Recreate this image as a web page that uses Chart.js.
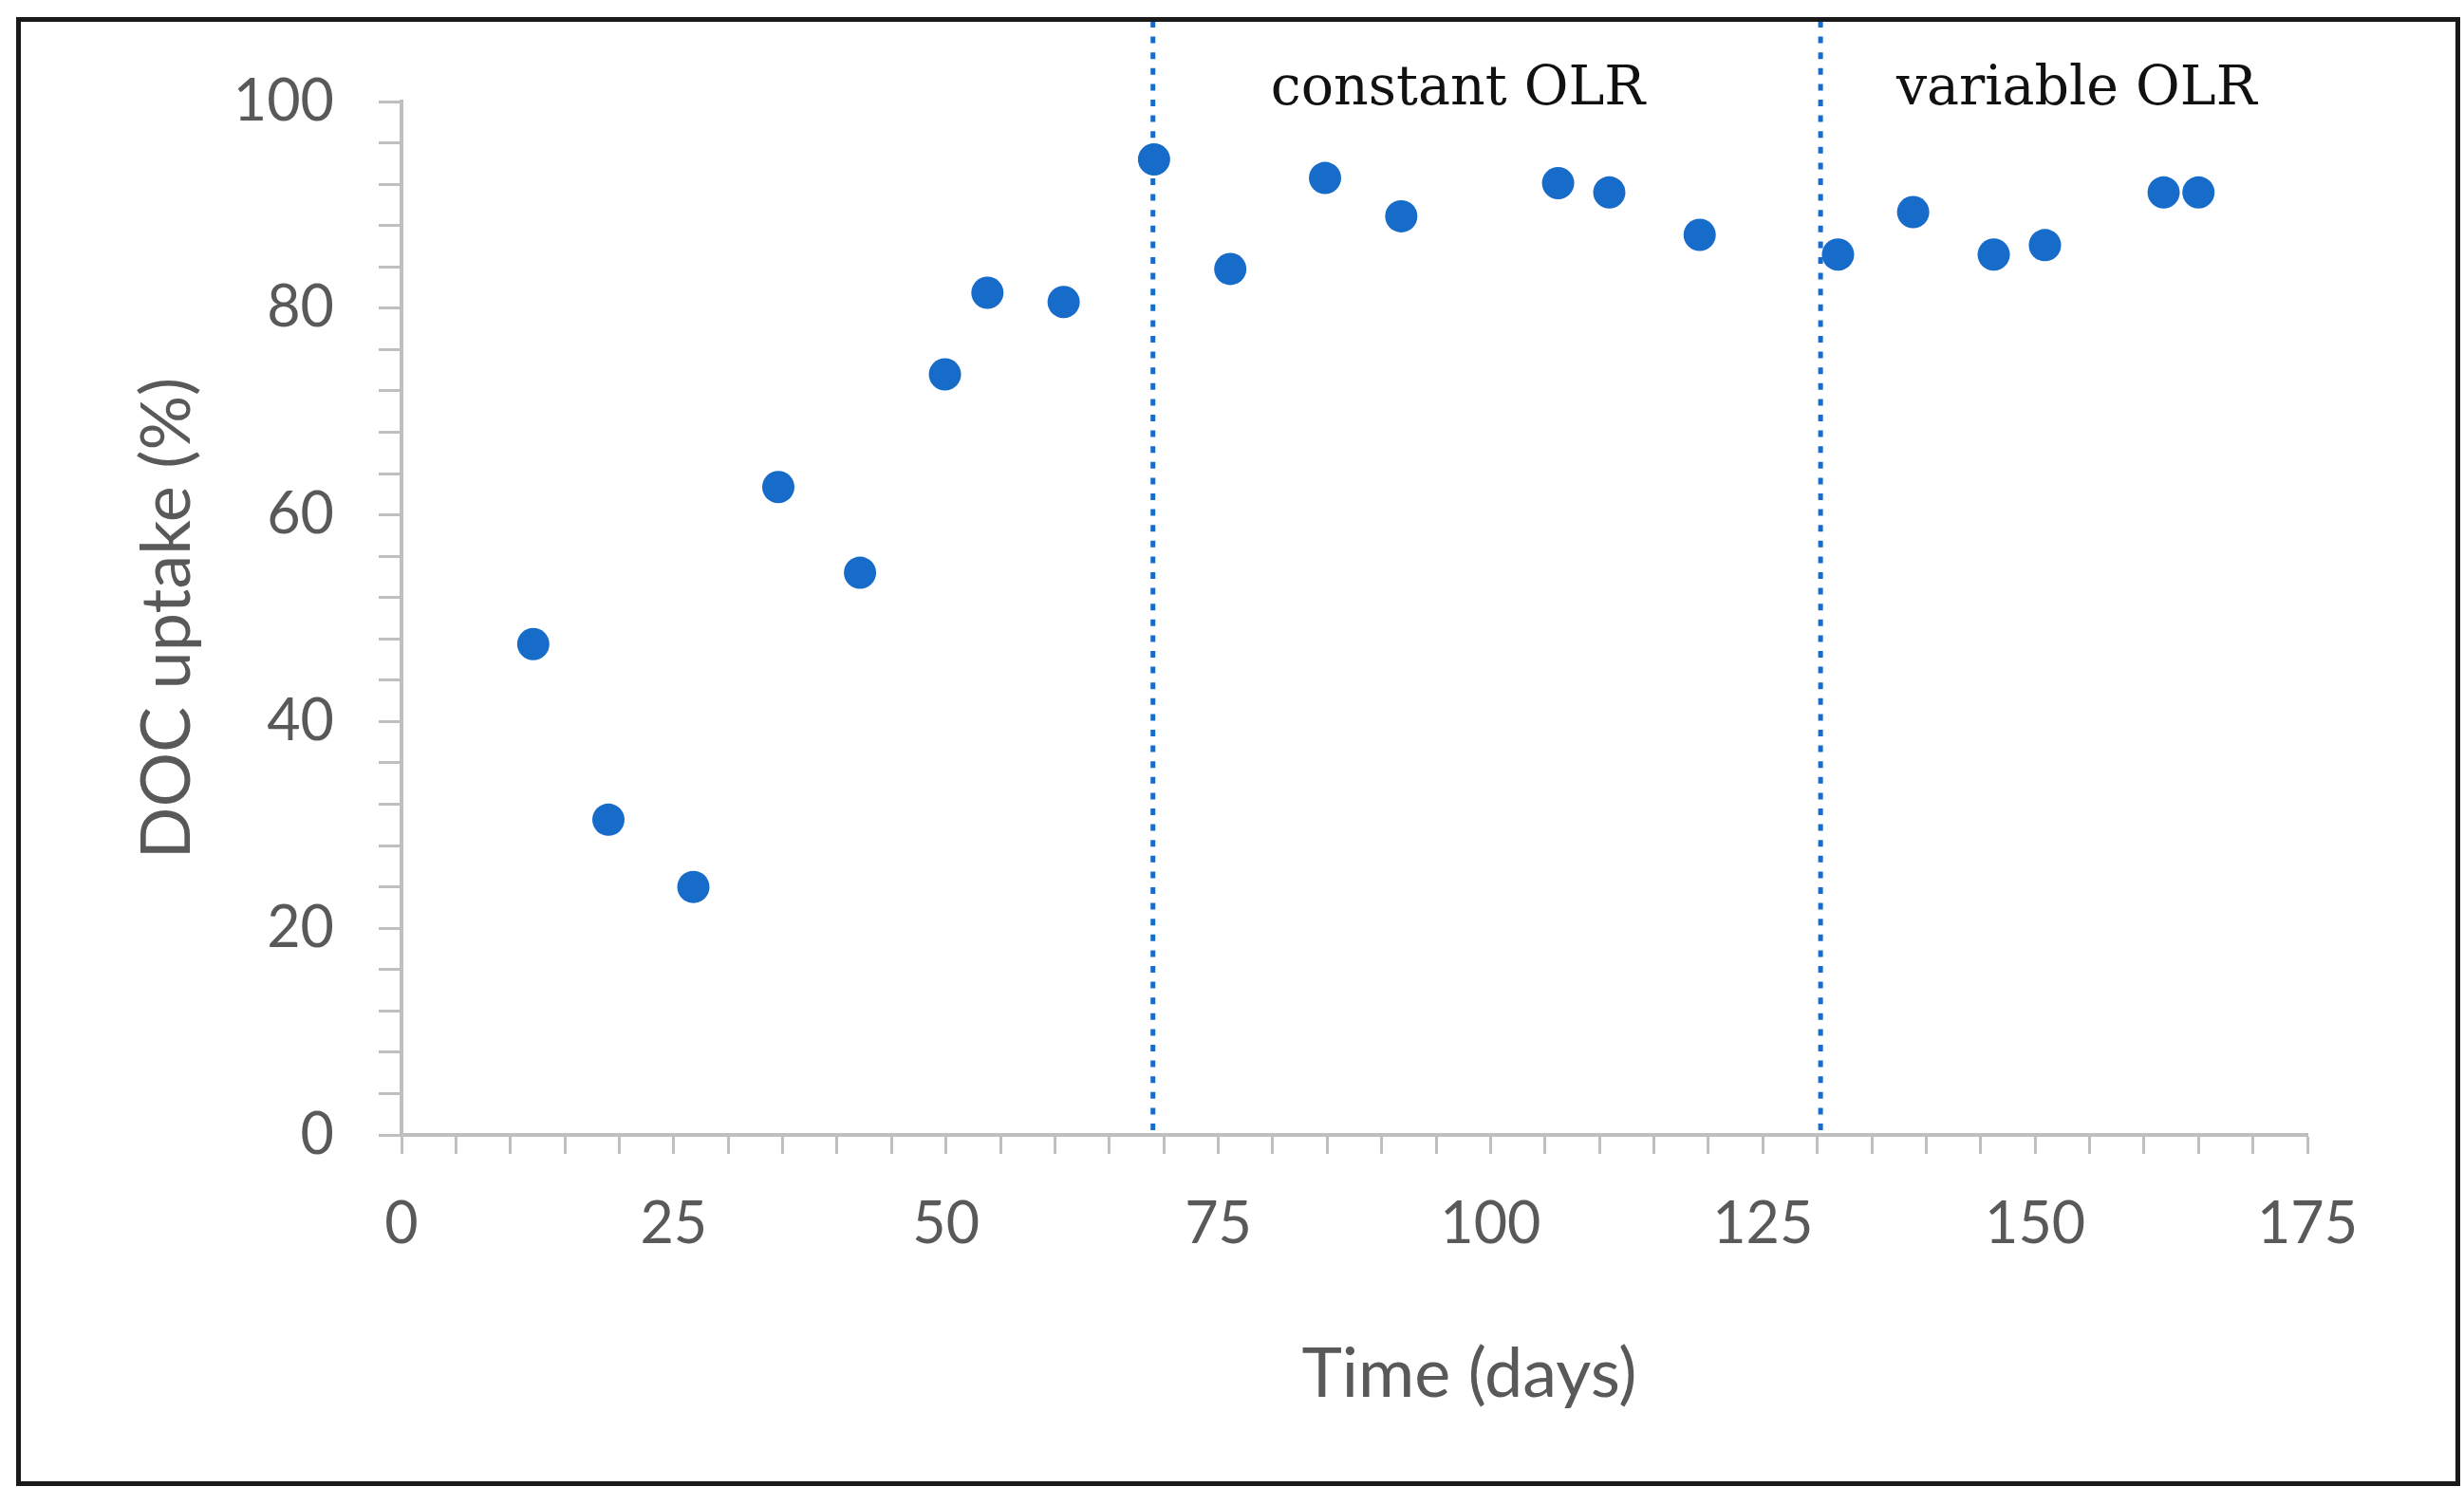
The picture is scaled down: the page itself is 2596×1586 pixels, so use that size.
<!DOCTYPE html>
<html>
<head>
<meta charset="utf-8">
<title>DOC uptake</title>
<script src="https://cdn.jsdelivr.net/npm/chart.js@4.4.1/dist/chart.umd.min.js"></script>
<style>
    html, body { margin: 0; padding: 0; background: #fff; }
    #chart { display: block; }
</style>
</head>
<body>
<canvas id="chart" width="2596" height="1586" style="width:2596px;height:1586px"></canvas>
<script>
// sampling days and DOC uptake (%)
const days = [12.1, 19.0, 26.8, 34.6, 42.1, 49.9, 53.8, 60.8, 69.1, 76.1, 84.8, 91.8, 106.2, 110.9, 119.2, 131.9, 138.8, 146.2, 150.9, 161.8, 165.0];
const uptake = [47.5, 30.5, 24.0, 62.7, 54.4, 73.6, 81.5, 80.6, 94.4, 83.8, 92.6, 88.9, 92.1, 91.2, 87.1, 85.2, 89.3, 85.2, 86.1, 91.2, 91.2];

// phase boundaries (days) and phase labels
const phaseLines = [69.0, 130.3];
const phaseNames = ['constant OLR', 'variable OLR'];
const phaseLabelX = [97.0, 153.8];
const phaseLabelY = 99.7;

const xLabels = [0, 25, 50, 75, 100, 125, 150, 175];
const yLabels = [0, 20, 40, 60, 80, 100];

const xTitle = 'Time (days)';
const yTitle = 'DOC uptake (%)';

const blue = '#176cc9';
const axisGrey = '#bfbfbf';
const textGrey = '#595959';

const overlay = {
    id: 'overlay',
    beforeDatasetsDraw(chart) {
        const ctx = chart.ctx;
        const xs = chart.scales.x;
        const ys = chart.scales.y;
        ctx.save();
        ctx.strokeStyle = blue;
        ctx.lineWidth = 5;
        ctx.setLineDash([7, 9.6]);
        phaseLines.forEach(d => {
            const px = xs.getPixelForValue(d);
            ctx.beginPath();
            ctx.moveTo(px, 22);
            ctx.lineTo(px, ys.getPixelForValue(0));
            ctx.stroke();
        });
        ctx.restore();
    },
    afterDraw(chart) {
        const ctx = chart.ctx;
        const xs = chart.scales.x;
        const ys = chart.scales.y;
        const area = chart.chartArea;
        ctx.save();

        // phase labels
        ctx.fillStyle = '#111';
        ctx.font = '57px "DejaVu Serif", serif';
        ctx.textAlign = 'center';
        ctx.textBaseline = 'alphabetic';
        phaseNames.forEach((name, i) => {
            ctx.fillText(name, xs.getPixelForValue(phaseLabelX[i]), ys.getPixelForValue(phaseLabelY));
        });

        // axis titles
        ctx.fillStyle = textGrey;
        ctx.font = '72px Lato, "Open Sans", sans-serif';
        ctx.fillText(xTitle, 1548, 1472);
        ctx.translate(200, (area.top + area.bottom) / 2);
        ctx.rotate(-Math.PI / 2);
        ctx.fillText(yTitle, 0, 0);
        ctx.restore();

        // outer frame
        ctx.save();
        ctx.strokeStyle = '#1a1a1a';
        ctx.lineWidth = 5;
        ctx.strokeRect(19.5, 20.5, 2570, 1543);
        ctx.restore();
    }
};

new Chart(document.getElementById('chart'), {
    type: 'scatter',
    data: {
        datasets: [{
            label: 'DOC uptake',
            data: days.map((d, i) => ({ x: d, y: uptake[i] })),
            backgroundColor: blue,
            borderColor: blue,
            borderWidth: 0,
            pointRadius: 17,
            pointHoverRadius: 17
        }]
    },
    options: {
        responsive: false,
        devicePixelRatio: 1,
        animation: false,
        layout: {
            padding: { left: 223, right: 165, top: 107, bottom: 190 }
        },
        plugins: {
            legend: { display: false },
            tooltip: { enabled: false }
        },
        scales: {
            x: {
                type: 'linear',
                min: 0,
                max: 175,
                afterFit: s => { s.height = 200; },
                grid: {
                    drawOnChartArea: false,
                    drawTicks: true,
                    tickLength: 20,
                    tickColor: axisGrey,
                    tickWidth: 3
                },
                border: { color: axisGrey, width: 4 },
                ticks: {
                    stepSize: 5,
                    autoSkip: false,
                    maxRotation: 0,
                    padding: 38,
                    color: textGrey,
                    font: { family: 'Lato, "Open Sans", sans-serif', size: 61 },
                    callback: v => xLabels.includes(v) ? String(v) : ''
                }
            },
            y: {
                type: 'linear',
                min: 0,
                max: 100,
                afterFit: s => { s.width = 200; },
                grid: {
                    drawOnChartArea: false,
                    drawTicks: true,
                    tickLength: 24,
                    tickColor: axisGrey,
                    tickWidth: 3
                },
                border: { color: axisGrey, width: 4 },
                ticks: {
                    stepSize: 4,
                    autoSkip: false,
                    padding: 47,
                    color: textGrey,
                    font: { family: 'Lato, "Open Sans", sans-serif', size: 61 },
                    callback: v => yLabels.includes(v) ? String(v) : ''
                }
            }
        }
    },
    plugins: [overlay]
});
</script>
</body>
</html>
